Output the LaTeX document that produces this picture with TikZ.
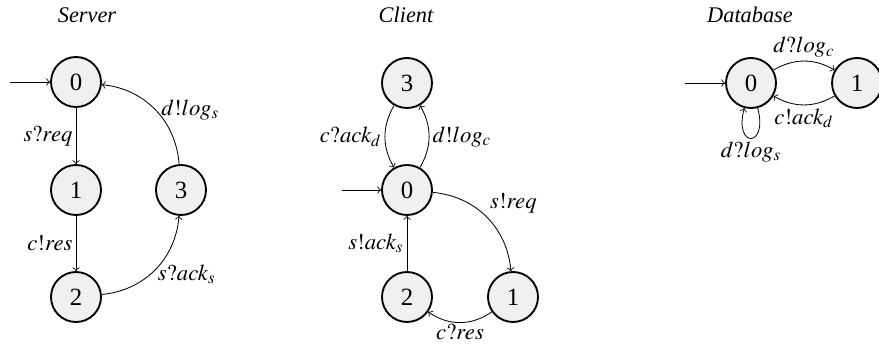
\documentclass[tikz,border=0pt]{standalone}
\usepackage{mathptmx}
\usepackage{fontspec}
\setmainfont{Liberation Serif}
\definecolor{statefill}{gray}{0.94}
\begin{document}
\begin{tikzpicture}[x=0.017cm, y=0.017cm, >=to,
    state/.style={draw, circle, line width=0.9pt, fill=statefill, minimum size=0.85cm, inner sep=0pt, font=\fontsize{12}{14}\selectfont},
    title/.style={font=\fontsize{10.8}{13}\selectfont\itshape},
    lbl/.style={inner sep=1.5pt, font=\fontsize{11}{13}\selectfont}]
  \useasboundingbox (0,0) rectangle (879,343);
  % Server
  \node[title] (st) at (87,328) {Server};
  \node[state] (s0) at (76,261) {0};
  \node[state] (s1) at (76,153) {1};
  \node[state] (s2) at (76,46) {2};
  \node[state] (s3) at (181,153) {3};
  \coordinate (sin) at (10,261);
  \draw[->] (sin) -- (s0);
  \draw[->] (s0) to node[lbl, left] {$s?req$} (s1);
  \draw[->] (s1) to node[lbl, left] {$c!res$} (s2);
  \draw[->, bend right=40] (s2) to node[lbl, below right, pos=0.6, xshift=-4pt] {$s?ack_s$} (s3);
  \draw[->, bend right=40] (s3) to node[lbl, above right, pos=0.35, xshift=-4pt] {$d!log_s$} (s0);
  % Client
  \node[title] (ct) at (406,328) {Client};
  \node[state] (c3) at (407,260) {3};
  \node[state] (c0) at (407,153) {0};
  \node[state] (c2) at (407,46) {2};
  \node[state] (c1) at (513,46) {1};
  \coordinate (cin) at (342,153);
  \draw[->] (cin) -- (c0);
  \draw[->, bend right=30] (c3) to node[lbl, left] {$c?ack_d$} (c0);
  \draw[->, bend right=30] (c0) to node[lbl, right] {$d!log_c$} (c3);
  \draw[->, bend left=40] (c0) to node[lbl, above right] {$s!req$} (c1);
  \draw[->, bend left=35] (c1) to node[lbl, below, inner sep=0.5pt] {$c?res$} (c2);
  \draw[->] (c2) to node[lbl, left] {$s!ack_s$} (c0);
  % Database
  \node[title] (dt) at (750,328) {Database};
  \node[state] (d0) at (751,260) {0};
  \node[state] (d1) at (857,260) {1};
  \coordinate (din) at (685,260);
  \draw[->] (din) -- (d0);
  \draw[->, bend left=30] (d0) to node[lbl, above] {$d?log_c$} (d1);
  \draw[->, bend left=30] (d1) to node[lbl, below] {$c!ack_d$} (d0);
  \draw[->] (d0) to[loop below] node[lbl, below] {$d?log_s$} (d0);
\end{tikzpicture}
\end{document}
